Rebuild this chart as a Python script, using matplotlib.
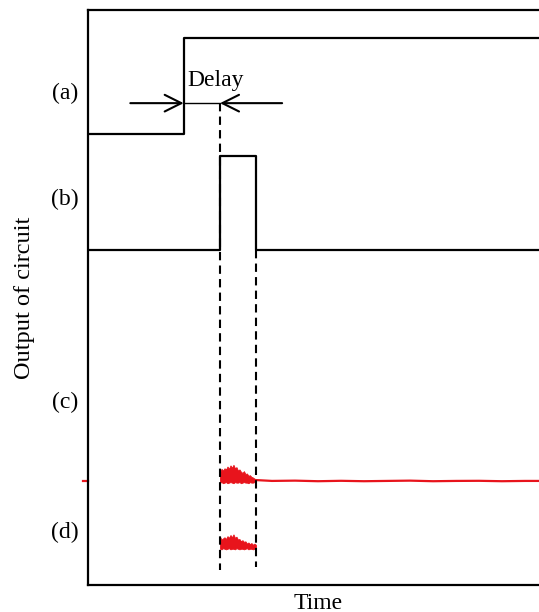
import matplotlib.pyplot as plt
import numpy as np

plt.rcParams['font.family'] = ['Liberation Serif', 'DejaVu Serif']

# Step 1: Data (arbitrary time / output units)
step_t = 20.8          # input step time, trace (a)
pulse_start = 28.7     # output pulse start
pulse_end = 36.5       # output pulse end
t_end = 98.5

a_low, a_high = 78.4, 95.1
b_low, b_high = 58.2, 74.6
c_base = 18.1
d_base = 6.3
delay_y = 83.8

# hand-read envelope of the red noisy bursts
burst_t = np.linspace(pulse_start, pulse_end, 25)
c_upper = [19.6, 20.2, 19.9, 20.3, 20.1, 20.6, 20.2, 20.8, 20.4, 20.9,
           20.3, 20.5, 19.9, 20.1, 19.7, 19.5, 19.8, 19.3, 19.4, 19.0,
           19.1, 18.8, 18.7, 18.5, 18.3]
c_lower = [17.8, 17.9, 17.7, 17.8, 17.9, 17.7, 17.8, 17.9, 17.8, 17.7,
           17.9, 17.8, 17.8, 17.9, 17.7, 17.8, 17.9, 17.8, 17.8, 17.7,
           17.9, 17.8, 17.8, 17.9, 17.8]
d_upper = [8.4, 7.9, 8.1, 8.3, 8.0, 8.5, 8.2, 8.7, 8.3, 8.8,
           8.2, 8.4, 7.9, 8.0, 7.6, 7.8, 7.5, 7.6, 7.2, 7.4,
           7.1, 7.3, 7.0, 7.2, 7.0]
d_lower = [6.3, 6.2, 6.4, 6.3, 6.2, 6.3, 6.4, 6.2, 6.3, 6.3,
           6.2, 6.4, 6.3, 6.2, 6.3, 6.3, 6.2, 6.3, 6.4, 6.2,
           6.3, 6.3, 6.2, 6.3, 6.3]
c_tail_t = [pulse_end, 40, 45, 50, 55, 60, 65, 70, 75, 80, 85, 90, 95, 100]
c_tail = [18.25, 18.1, 18.15, 18.05, 18.12, 18.05, 18.1, 18.15, 18.05,
          18.1, 18.12, 18.05, 18.1, 18.1]

labels = ['(a)', '(b)', '(c)', '(d)']
label_y = [85.4, 67.1, 31.8, 9.2]

# Step 2: Figure
fig = plt.figure(figsize=(5.39, 6.12), dpi=100)
ax = fig.add_axes([88 / 539, 27 / 612, 460 / 539, 575 / 612])
ax.set_xlim(0, 100)
ax.set_ylim(0, 100)
ax.set_xticks([])
ax.set_yticks([])
for s in ax.spines.values():
    s.set_linewidth(1.6)

lw = 1.6
# (a) input step
ax.plot([0, step_t, step_t, t_end], [a_low, a_low, a_high, a_high], color='black', lw=lw)
# (b) output pulse
ax.plot([0, pulse_start, pulse_start, pulse_end, pulse_end, 100],
        [b_low, b_low, b_high, b_high, b_low, b_low], color='black', lw=lw)

# (c) and (d) red measured traces
red = '#e8141c'
ax.fill_between(burst_t, c_lower, c_upper, color=red, lw=0.6, edgecolor=red)
ax.plot(c_tail_t, c_tail, color=red, lw=1.6)
ax.plot([-1, 0], [c_base, c_base], color=red, lw=1.6, clip_on=False)
ax.fill_between(burst_t, d_lower, d_upper, color=red, lw=0.6, edgecolor=red)

# dashed guides
ax.plot([pulse_start, pulse_start], [delay_y, 2.6], color='black', lw=1.5, ls=(0, (4, 2.5)))
ax.plot([pulse_end, pulse_end], [b_low, 3.1], color='black', lw=1.5, ls=(0, (4, 2.5)))

# Delay arrows
ax.plot([step_t, pulse_start], [delay_y, delay_y], color='black', lw=1.0)
ax.annotate('', xy=(step_t, delay_y), xytext=(9.2, delay_y),
            arrowprops=dict(arrowstyle='->', color='black', lw=1.5, mutation_scale=30,
                            shrinkA=0, shrinkB=0))
ax.annotate('', xy=(pulse_start, delay_y), xytext=(42.2, delay_y),
            arrowprops=dict(arrowstyle='->', color='black', lw=1.5, mutation_scale=30,
                            shrinkA=0, shrinkB=0))
ax.text(27.8, 87.8, 'Delay', ha='center', va='center', fontsize=17)

for lab, y in zip(labels, label_y):
    ax.text(-5.0, y, lab, ha='center', va='center', fontsize=17, clip_on=False)

ax.set_xlabel('Time', fontsize=17, labelpad=6)
ax.set_ylabel('Output of circuit', fontsize=17.5, labelpad=38)

fig.savefig('out.png', dpi=100)
